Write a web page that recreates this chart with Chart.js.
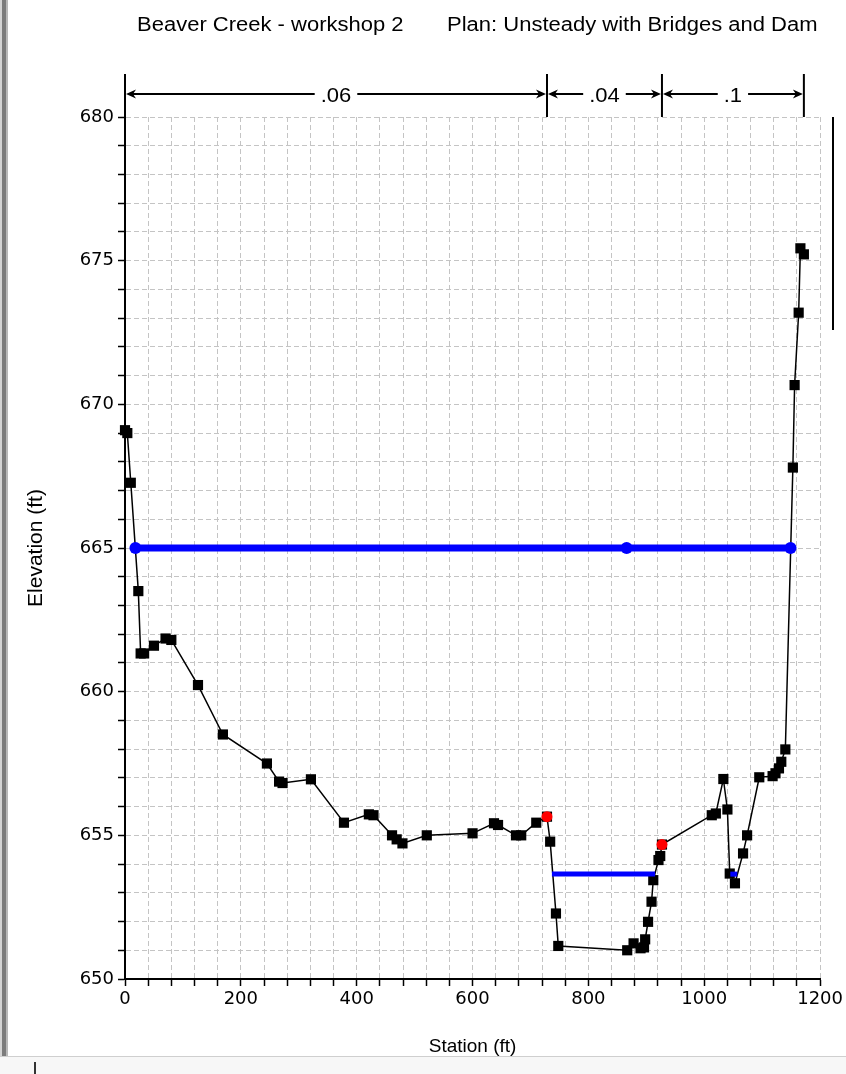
<!DOCTYPE html>
<html>
<head>
<meta charset="utf-8">
<title>Beaver Creek - workshop 2</title>
<script src="https://cdn.jsdelivr.net/npm/chart.js@4.4.0/dist/chart.umd.min.js"></script>
<style>
  html, body { margin: 0; padding: 0; background: #ffffff; }
  #wrap { position: relative; width: 846px; height: 1074px; overflow: hidden; background: #ffffff; }
  #xs { position: absolute; left: 0; top: 0; }
  .frame-left { position: absolute; left: 0; top: 0; width: 8px; height: 1056px;
    background: linear-gradient(to right, #d4d4d4 0, #d4d4d4 2px, #7c7c7c 2px, #7c7c7c 6px, #b8b8b8 6px, #b8b8b8 8px); }
  .frame-bottom { position: absolute; left: 0; top: 1056px; width: 846px; height: 18px;
    background: #f7f7f7; border-top: 1px solid #cfcfcf; }
  .frame-grip { position: absolute; left: 34px; top: 1062px; width: 2px; height: 12px; background: #333333; }
</style>
</head>
<body>
<div id="wrap">
  <canvas id="xs" width="846" height="1074"></canvas>
  <div class="frame-left"></div>
  <div class="frame-bottom"></div>
  <div class="frame-grip"></div>
</div>
<script>
// Ground profile of the cross section (station ft, elevation ft)
const groundStations = [
  0, 4, 10, 23, 27, 33, 50, 70, 80, 126, 169, 245, 266, 272, 321, 378, 421, 429,
  461, 469, 479, 521, 600, 637, 644, 675, 684, 710, 728.5, 734, 744, 748,
  867, 878, 890, 896, 898, 903, 909, 912, 921, 924, 927,
  1013, 1020, 1033, 1040, 1044, 1053, 1067, 1074, 1095, 1118, 1123, 1129, 1133, 1140,
  1153, 1156, 1163, 1166, 1172
];
const groundElevations = [
  669.10, 669.00, 667.27, 663.50, 661.33, 661.33, 661.60, 661.85, 661.80, 660.23, 658.51, 657.50, 656.87, 656.82, 656.95, 655.44, 655.73, 655.70,
  655.00, 654.86, 654.72, 655.00, 655.07, 655.42, 655.36, 655.00, 655.00, 655.44, 655.65, 654.78, 652.28, 651.15,
  651.00, 651.24, 651.07, 651.10, 651.38, 651.99, 652.69, 653.44, 654.14, 654.28, 654.68,
  655.70, 655.76, 656.96, 655.90, 653.67, 653.33, 654.37, 655.00, 657.02, 657.06, 657.16, 657.33, 657.56, 657.99,
  667.80, 670.67, 673.19, 675.43, 675.22
];

// Bank stations
const bankStations = [728.5, 927];
const bankElevations = [655.65, 654.68];

// Water surfaces
const wsHighStations = [18, 866, 1149];
const wsHighElevations = [665.0, 665.0, 665.0];
const wsChannelStations = [737, 915];
const wsChannelElevations = [653.65, 653.65];
const wsPocketStations = [1045, 1057];
const wsPocketElevations = [653.65, 653.65];

// Manning's n values for left overbank, channel, right overbank
const nValues = ['.06', '.04', '.1'];

// Labelled ticks
const xLabelValues = [0, 200, 400, 600, 800, 1000, 1200];
const yLabelValues = [650, 655, 660, 665, 670, 675, 680];

const titleLeft = 'Beaver Creek - workshop 2';
const titleRight = 'Plan: Unsteady with Bridges and Dam';

const FONT = "'Liberation Sans', Arial, sans-serif";
const TICK_FONT = "'DejaVu Sans', 'Liberation Sans', sans-serif";
Chart.defaults.font.family = FONT;
Chart.defaults.color = '#000000';

const toXY = (xs, ys) => xs.map((x, i) => ({ x: x, y: ys[i] }));

// Text drawn slightly widened, like the plot's header lettering
function wideText(ctx, text, x, y, align) {
  const sx = 1.1;
  ctx.save();
  ctx.translate(x, y);
  ctx.scale(sx, 1);
  ctx.textAlign = align;
  ctx.fillText(text, 0, 0);
  ctx.restore();
}

// Title, n-value brackets and the frame line above the plot
const overlay = {
  id: 'overlay',
  afterDraw(chart) {
    const ctx = chart.ctx;
    const xs = chart.scales.x;
    const top = chart.chartArea.top;
    ctx.save();
    ctx.fillStyle = '#000';
    ctx.strokeStyle = '#000';
    ctx.font = '20px ' + FONT;
    ctx.textBaseline = 'middle';
    wideText(ctx, titleLeft, 137, 25, 'left');
    wideText(ctx, titleRight, 447, 25, 'left');

    const bx = [groundStations[0], bankStations[0], bankStations[1], groundStations[groundStations.length - 1]]
      .map(v => xs.getPixelForValue(v));
    const yTop = 74, yArrow = 94;
    ctx.lineWidth = 2;
    bx.forEach(x => {
      ctx.beginPath();
      ctx.moveTo(x, yTop);
      ctx.lineTo(x, top);
      ctx.stroke();
    });
    for (let i = 0; i < 3; i++) {
      const x1 = bx[i] + 1, x2 = bx[i + 1] - 1;
      const cx = (x1 + x2) / 2;
      const half = ctx.measureText(nValues[i]).width * 1.1 / 2 + 6;
      ctx.lineWidth = 2;
      ctx.beginPath();
      ctx.moveTo(x1 + 4, yArrow); ctx.lineTo(cx - half, yArrow);
      ctx.moveTo(cx + half, yArrow); ctx.lineTo(x2 - 4, yArrow);
      ctx.stroke();
      // arrow heads
      ctx.beginPath();
      ctx.moveTo(x1, yArrow); ctx.lineTo(x1 + 10, yArrow - 4.5); ctx.lineTo(x1 + 7, yArrow); ctx.lineTo(x1 + 10, yArrow + 4.5); ctx.closePath();
      ctx.moveTo(x2, yArrow); ctx.lineTo(x2 - 10, yArrow - 4.5); ctx.lineTo(x2 - 7, yArrow); ctx.lineTo(x2 - 10, yArrow + 4.5); ctx.closePath();
      ctx.fill();
      wideText(ctx, nValues[i], cx, yArrow + 2, 'center');
    }
    // frame line at the right
    ctx.lineWidth = 2;
    ctx.beginPath();
    ctx.moveTo(833, top);
    ctx.lineTo(833, 330);
    ctx.stroke();
    ctx.restore();
  }
};

new Chart(document.getElementById('xs'), {
  type: 'scatter',
  data: {
    datasets: [
      {
        label: 'Bank Sta',
        data: toXY(bankStations, bankElevations),
        showLine: false,
        pointStyle: 'circle',
        pointRadius: 5.5,
        pointBackgroundColor: '#ff0000',
        pointBorderColor: '#ff0000',
        pointBorderWidth: 0,
        order: 0,
        clip: false
      },
      {
        label: 'WS',
        data: toXY(wsHighStations, wsHighElevations),
        showLine: true,
        borderColor: '#0000ff',
        borderWidth: 7,
        pointStyle: 'circle',
        pointRadius: 6,
        pointBackgroundColor: '#0000ff',
        pointBorderWidth: 0,
        order: 1,
        clip: false
      },
      {
        label: 'WS channel',
        data: toXY(wsChannelStations, wsChannelElevations),
        showLine: true,
        borderColor: '#0000ff',
        borderWidth: 5,
        pointRadius: 0,
        order: 1,
        clip: false
      },
      {
        label: 'WS pocket',
        data: toXY(wsPocketStations, wsPocketElevations),
        showLine: true,
        borderColor: '#0000ff',
        borderWidth: 5,
        pointRadius: 0,
        order: 1,
        clip: false
      },
      {
        label: 'Ground',
        data: toXY(groundStations, groundElevations),
        showLine: true,
        borderColor: '#000000',
        borderWidth: 1.5,
        pointStyle: 'rect',
        pointRadius: 7.2,
        pointBackgroundColor: '#000000',
        pointBorderWidth: 0,
        order: 2,
        clip: false
      }
    ]
  },
  options: {
    responsive: false,
    animation: false,
    devicePixelRatio: 1,
    events: [],
    layout: { padding: { left: 0, right: 22, top: 117, bottom: 0 }, autoPadding: false },
    plugins: { legend: { display: false }, tooltip: { enabled: false } },
    scales: {
      x: {
        type: 'linear',
        min: 0,
        max: 1200,
        afterFit: s => { s.height = 95; },
        ticks: {
          stepSize: 40,
          autoSkip: false,
          maxRotation: 0,
          color: '#000',
          padding: 3,
          font: { size: 18, family: TICK_FONT },
          callback: v => (xLabelValues.includes(v) ? String(v) : '')
        },
        grid: { color: '#c4c4c4', lineWidth: 1, tickLength: 7, tickColor: '#000', tickWidth: 1.5 },
        border: { display: true, color: '#000', width: 2, dash: [5, 3] },
        title: { display: true, text: 'Station (ft)', color: '#000', font: { size: 19 }, padding: { top: 0, bottom: 16 } }
      },
      y: {
        type: 'linear',
        min: 650,
        max: 680,
        afterFit: s => { s.width = 125; },
        ticks: {
          stepSize: 1,
          autoSkip: false,
          color: '#000',
          padding: 4,
          font: { size: 18, family: TICK_FONT },
          callback: v => (yLabelValues.includes(v) ? String(v) : '')
        },
        grid: { color: '#c4c4c4', lineWidth: 1, tickLength: 7, tickColor: '#000', tickWidth: 1.5 },
        border: { display: true, color: '#000', width: 2, dash: [5, 3] },
        title: { display: true, text: 'Elevation (ft)', color: '#000', font: { size: 21 }, padding: { top: 24, bottom: 0 } }
      }
    }
  },
  plugins: [overlay]
});
</script>
</body>
</html>
